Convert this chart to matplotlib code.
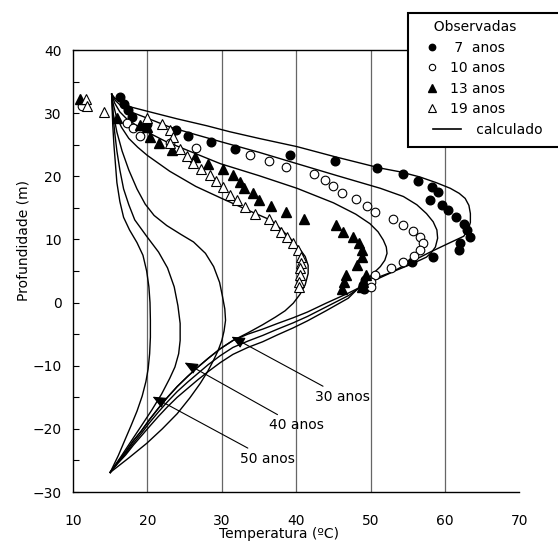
import matplotlib
matplotlib.use("Agg")
import matplotlib.pyplot as plt
from matplotlib.lines import Line2D
from matplotlib.patches import Rectangle
from matplotlib.legend_handler import HandlerLine2D

# observed profiles (temperature degC, depth m)
t_7 = [16.3, 16.8, 17.4, 17.9, 20.0, 23.8, 25.5, 28.6, 31.8, 39.2, 45.2, 50.8, 54.4, 56.4, 58.2,
       59.1, 58.0, 59.6, 60.4, 61.5, 62.5, 62.9, 63.3, 62.0, 61.9, 58.4, 55.5, 49.2, 49.0, 49.1]
d_7 = [32.6, 31.5, 30.5, 29.4, 28.3, 27.3, 26.4, 25.5, 24.3, 23.4, 22.4, 21.3, 20.4, 19.3, 18.3,
       17.5, 16.3, 15.4, 14.6, 13.5, 12.4, 11.5, 10.4, 9.4, 8.4, 7.2, 6.45, 3.5, 2.8, 2.2]

t_10 = [11.2, 17.2, 18.1, 19.0, 23.0, 26.5, 33.8, 36.4, 38.6, 42.4, 43.9, 44.9, 46.1, 48.0,
        49.5, 50.6, 53.0, 54.3, 55.7, 56.6, 57.1, 56.6, 55.8, 54.4, 52.7, 50.6, 50.1, 50.0]
d_10 = [31.1, 28.5, 27.6, 26.4, 25.3, 24.5, 23.4, 22.4, 21.4, 20.4, 19.4, 18.5, 17.4, 16.4,
        15.3, 14.4, 13.3, 12.3, 11.4, 10.4, 9.5, 8.4, 7.4, 6.4, 5.5, 4.3, 3.3, 2.4]

t_13 = [10.9, 15.9, 19.0, 19.9, 20.4, 21.6, 23.3, 26.4, 28.2, 30.1, 31.5, 32.4, 33.0, 34.2, 35.0,
        36.6, 38.6, 41.1, 45.4, 46.3, 47.6, 48.4, 48.9, 48.9, 48.2, 46.7, 46.4, 46.2, 49.4, 49.0, 48.8]
d_13 = [32.3, 29.2, 28.1, 27.8, 26.2, 25.2, 24.2, 23.1, 22.0, 21.2, 20.2, 19.1, 18.2, 17.3, 16.3,
        15.3, 14.4, 13.3, 12.3, 11.2, 10.4, 9.4, 8.3, 7.2, 5.9, 4.4, 3.3, 2.2, 4.3, 3.3, 2.4]

t_19 = [11.8, 11.9, 14.2, 20.0, 22.0, 23.0, 23.4, 23.0, 24.4, 25.3, 26.1, 27.2, 28.4, 29.2, 30.2,
        31.1, 32.0, 33.1, 34.4, 36.4, 37.2, 37.9, 38.7, 39.6, 40.3, 40.6, 40.7, 40.5, 40.5, 40.4, 40.4]
d_19 = [32.3, 31.1, 30.2, 29.2, 28.3, 27.3, 26.2, 25.3, 24.3, 23.2, 22.1, 21.2, 20.2, 19.2, 18.3,
        17.1, 16.2, 15.2, 14.1, 13.3, 12.3, 11.2, 10.4, 9.4, 8.3, 7.2, 6.2, 5.4, 4.3, 3.3, 2.5]

# calculated profiles, read point by point
calc_t = {
    7: [15.2, 15.6, 16.4, 17.7, 20.0, 24.0, 28.0, 31.1, 35.0, 40.1, 45.2, 51.3, 54.0, 56.6, 58.8,
        60.7, 61.9, 62.7, 63.2, 63.4, 63.4, 63.1, 62.5, 60.5, 58.0, 55.0, 52.5, 49.9,
        47.0, 44.0, 41.5, 39.6, 37.5, 35.5, 33.5, 31.5, 29.8, 28.2, 26.8, 25.4, 24.0, 22.7,
        21.5, 20.3, 19.2, 18.1, 17.1, 16.0, 15.0],
    10: [15.2, 15.7, 16.6, 18.0, 20.0, 23.0, 26.5, 29.8, 35.0, 40.1, 45.5, 51.3, 54.4, 56.2,
         57.5, 58.4, 58.9, 59.0, 58.7, 58.2, 57.5, 55.5, 53.0, 51.2, 49.9,
         47.0, 44.0, 41.5, 39.6, 37.5, 35.5, 33.5, 31.5, 29.8, 28.2, 26.8, 25.4, 24.0, 22.7,
         21.5, 20.3, 19.2, 18.1, 17.1, 16.0, 15.0],
    13: [15.2, 15.6, 16.3, 17.3, 18.6, 20.0, 22.5, 25.0, 27.5, 29.8, 35.0, 40.1, 45.0, 48.0,
         49.9, 51.0, 51.7, 52.1, 52.2, 51.9, 51.3, 50.6, 49.9,
         47.0, 44.0, 41.5, 39.6, 37.5, 35.5, 33.5, 31.5, 29.8, 28.2, 26.8, 25.4, 24.0, 22.7,
         21.5, 20.3, 19.2, 18.1, 17.1, 16.0, 15.0],
    19: [15.2, 15.4, 15.8, 16.5, 17.5, 18.7, 20.0, 23.0, 26.5, 29.8, 33.0, 36.5, 38.0, 39.4,
         40.4, 41.2, 41.6, 41.6, 41.2, 40.5, 39.6, 38.5, 37.2, 35.5, 33.5, 31.5, 29.8, 28.2,
         26.8, 25.4, 24.0, 22.7, 21.5, 20.3, 19.2, 18.1, 17.1, 16.0, 15.0],
    30: [15.2, 15.4, 15.9, 16.6, 17.5, 18.6, 19.7, 20.9, 22.6, 24.5, 26.2, 27.8, 28.9, 29.7,
         30.1, 30.4, 30.5, 30.3, 30.0, 29.5, 28.9, 28.1, 27.1, 25.7, 24.0, 22.0, 19.9, 17.5, 15.0],
    40: [15.2, 15.35, 15.6, 15.9, 16.3, 16.8, 17.5, 18.3, 19.9, 21.5, 22.7, 23.6, 24.1, 24.4,
         24.4, 24.2, 23.7, 23.0, 21.9, 20.6, 19.2, 17.9, 16.5, 15.0],
    50: [15.2, 15.25, 15.35, 15.5, 15.7, 15.9, 16.3, 16.8, 17.6, 18.6, 19.4, 19.9, 20.2, 20.35,
         20.4, 20.4, 20.3, 20.1, 19.8, 19.3, 18.6, 17.8, 17.0, 16.1, 15.0],
}
calc_d = {
    7: [33.0, 32.4, 31.7, 31.0, 30.3, 29.1, 28.0, 27.05, 26.0, 24.7, 23.1, 21.3, 20.7, 19.9, 19.0,
        18.1, 17.3, 16.5, 15.4, 14.1, 12.7, 11.5, 10.5, 9.4, 8.0, 6.2, 4.6, 3.2,
        1.5, -0.1, -1.5, -2.4, -3.3, -4.2, -5.0, -6.0, -7.3, -8.8, -10.2, -11.7, -13.3, -15.0,
        -16.7, -18.5, -20.3, -21.9, -23.6, -25.3, -26.9],
    10: [33.0, 32.0, 31.0, 30.1, 29.2, 27.8, 26.6, 25.5, 23.8, 22.0, 20.1, 18.1, 16.8, 15.5,
         14.1, 12.8, 11.5, 10.2, 8.8, 8.0, 7.2, 6.1, 4.9, 4.1, 3.5,
         1.1, -0.7, -2.2, -3.2, -4.2, -5.2, -6.1, -7.1, -8.4, -9.8, -11.2, -12.6, -14.1, -15.7,
         -17.3, -19.0, -20.7, -22.3, -23.9, -25.4, -26.9],
    13: [33.0, 31.6, 30.2, 29.0, 28.0, 27.0, 25.5, 24.3, 23.1, 22.0, 20.1, 18.1, 15.8, 14.0,
         12.5, 11.2, 9.9, 8.8, 7.8, 6.7, 5.7, 4.9, 4.1,
         0.7, -1.3, -2.9, -4.0, -5.1, -6.2, -7.1, -8.2, -9.5, -10.9, -12.2, -13.6, -15.0, -16.5,
         -18.0, -19.6, -21.1, -22.6, -24.1, -25.5, -26.9],
    19: [33.0, 31.5, 29.6, 27.8, 26.0, 24.6, 23.3, 20.8, 18.4, 16.6, 14.9, 13.1, 11.6, 9.9,
         8.6, 7.3, 5.9, 4.6, 2.8, 1.3, -0.1, -1.3, -2.3, -3.5, -4.8, -6.0, -7.3, -8.8,
         -10.2, -11.7, -13.3, -15.0, -16.7, -18.5, -20.3, -21.9, -23.6, -25.3, -26.9],
    30: [33.0, 30.0, 27.0, 24.0, 21.0, 18.0, 15.6, 13.8, 12.2, 10.8, 9.6, 7.8, 5.7, 3.2,
         0.9, -1.0, -2.8, -4.5, -6.0, -7.6, -9.1, -10.9, -12.8, -15.1, -17.6, -20.0, -22.3,
         -24.6, -26.9],
    40: [33.0, 30.0, 27.0, 24.0, 21.0, 18.0, 15.5, 13.1, 10.5, 8.0, 5.5, 2.5, -0.5, -3.3,
         -6.0, -8.1, -10.2, -12.0, -14.5, -17.0, -19.5, -21.8, -24.3, -26.9],
    50: [33.0, 31.0, 28.0, 25.0, 22.0, 19.0, 16.0, 13.5, 11.5, 9.5, 7.5, 5.0, 2.5, 0.0,
         -2.8, -5.5, -8.1, -10.5, -12.5, -14.8, -17.2, -19.5, -21.7, -24.2, -26.9],
}

labels_anos = ["30 anos", "40 anos", "50 anos"]
arrow_tip = [(31.3, -5.4), (25.0, -9.5), (20.7, -14.9)]
label_pos = [(42.5, -14.9), (36.3, -19.4), (32.4, -24.7)]


class LongLine(HandlerLine2D):
    # longer line sample, shifted right, as in the original key
    def create_artists(self, legend, orig_handle, xdescent, ydescent, width, height, fontsize, trans):
        return super().create_artists(legend, orig_handle, xdescent - 6, ydescent, width + 10,
                                      height, fontsize, trans)


fig = plt.figure(figsize=(5.58, 5.54), dpi=100)
ax = fig.add_axes([0.1308, 0.1119, 0.8002, 0.7978])

for x in [20, 30, 40, 50, 60]:
    ax.axvline(x, color="#666666", lw=0.9, zorder=1)

for k in calc_t:
    ax.plot(calc_t[k], calc_d[k], color="black", lw=1.0, zorder=2)

ms = 6.2
ax.plot(t_7, d_7, ls="none", marker="o", ms=ms, mfc="black", mec="black", zorder=3)
ax.plot(t_10, d_10, ls="none", marker="o", ms=ms, mfc="white", mec="black", mew=0.8, zorder=3)
ax.plot(t_13, d_13, ls="none", marker="^", ms=ms + 0.6, mfc="black", mec="black", zorder=3)
ax.plot(t_19, d_19, ls="none", marker="^", ms=ms + 0.6, mfc="white", mec="black", mew=0.8, zorder=3)

for lab, tip, pos in zip(labels_anos, arrow_tip, label_pos):
    ax.annotate(lab, xy=tip, xytext=pos, ha="left", va="center", fontsize=10,
                arrowprops=dict(arrowstyle="-|>,head_length=0.8,head_width=0.35",
                                color="black", lw=0.8, shrinkA=1, shrinkB=0,
                                mutation_scale=10))

ax.set_xlim(10, 70)
ax.set_ylim(-30, 40)
ax.set_xticks(range(10, 71, 10))
ax.set_yticks(range(-30, 41, 10))
ax.set_yticks(range(-25, 40, 10), minor=True)
ax.tick_params(axis="x", length=0, pad=16, labelsize=10)
ax.tick_params(axis="y", which="both", direction="in", length=4, width=0.8, pad=8, labelsize=10)
ax.spines["right"].set_visible(False)
for s in ["left", "bottom", "top"]:
    ax.spines[s].set_linewidth(1.0)

ax.set_xlabel("Temperatura (ºC)", fontsize=10)
ax.xaxis.set_label_coords(0.461, -0.079)
ax.set_ylabel("Profundidade (m)", fontsize=10)
ax.yaxis.set_label_coords(-0.096, 0.57)

# legend box (runs off the right edge of the figure)
fig.patches.append(Rectangle((408 / 558, 1 - 147 / 554), 0.4, (147 - 13) / 554,
                             transform=fig.transFigure, facecolor="white", edgecolor="black",
                             lw=1.5, zorder=5))

handles = [
    Line2D([], [], ls="none", marker="o", ms=4.6, mfc="black", mec="black"),
    Line2D([], [], ls="none", marker="o", ms=4.6, mfc="white", mec="black", mew=0.8),
    Line2D([], [], ls="none", marker="^", ms=5.2, mfc="black", mec="black"),
    Line2D([], [], ls="none", marker="^", ms=5.2, mfc="white", mec="black", mew=0.8),
    Line2D([], [], color="black", lw=1.2),
]
names = [" 7  anos", "10 anos", "13 anos", "19 anos", "      calculado"]
leg = fig.legend(handles, names, loc="upper left", bbox_to_anchor=(425 / 558, 1 - 20 / 554),
                 title="  Observadas", alignment="left", frameon=False,
                 fontsize=10, title_fontsize=10, handlelength=1.0, handletextpad=0.8,
                 labelspacing=0.47, borderpad=0, borderaxespad=0,
                 handler_map={handles[4]: LongLine()})
leg.set_zorder(6)

fig.savefig("out.png", dpi=100)
